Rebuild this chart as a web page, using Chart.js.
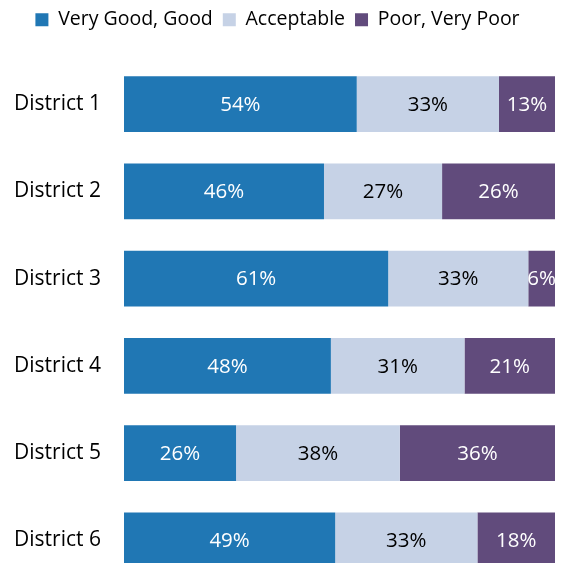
<!DOCTYPE html>
<html>
<head>
<meta charset="utf-8">
<script src="https://cdn.jsdelivr.net/npm/chart.js@4"></script>
<style>
  html, body { margin: 0; padding: 0; background: #fff; overflow: hidden; }
</style>
</head>
<body>
<canvas id="ratingChart" width="562" height="563"></canvas>
<script>
// District ratings, percent of respondents
const districts = ['District 1', 'District 2', 'District 3', 'District 4', 'District 5', 'District 6'];
const goodValues = [54, 46.4, 61.3, 48, 26, 49];
const acceptableValues = [33, 27.4, 32.5, 31, 38, 33];
const poorValues = [13, 26.2, 6.2, 21, 36, 18];
const seriesNames = ['Very Good, Good', 'Acceptable', 'Poor, Very Poor'];

const FONT = 'Open Sans';

// draws the % inside each segment
const segmentLabels = {
    id: 'segmentLabels',
    afterDatasetsDraw(chart) {
        const c = chart.ctx;
        c.save();
        c.font = '20.5px "' + FONT + '"';
        c.textAlign = 'center';
        c.textBaseline = 'middle';
        chart.data.datasets.forEach((ds, i) => {
            const meta = chart.getDatasetMeta(i);
            meta.data.forEach((bar, j) => {
                const v = ds.data[j];
                c.fillStyle = ds.labelColor;
                c.fillText(Math.round(v) + '%', (bar.base + bar.x) / 2, bar.y + 1);
            });
        });
        c.restore();
    }
};

// extra room under the legend, nudge it left, and let the last row run off the bottom
const layoutTweak = {
    id: 'layoutTweak',
    beforeInit(chart) {
        const fit = chart.legend.fit;
        chart.legend.fit = function() {
            fit.bind(chart.legend)();
            this.height += 21;
        };
    },
    afterLayout(chart) {
        chart.legend.left -= 7;
        chart.legend.right -= 7;
        const y = chart.scales.y;
        const bottom = chart.height + 21;
        y.bottom = bottom;
        y.height = bottom - y.top;
        y.configure();
        chart.chartArea.bottom = bottom;
        chart.chartArea.height = bottom - chart.chartArea.top;
    }
};

new Chart(document.getElementById('ratingChart'), {
    type: 'bar',
    data: {
        labels: districts,
        datasets: [
            { label: seriesNames[0], data: goodValues, backgroundColor: '#2077b4', labelColor: '#fff' },
            { label: seriesNames[1], data: acceptableValues, backgroundColor: '#c6d2e6', labelColor: '#000' },
            { label: seriesNames[2], data: poorValues, backgroundColor: '#614b7c', labelColor: '#fff' }
        ]
    },
    options: {
        indexAxis: 'y',
        responsive: false,
        animation: false,
        datasets: {
            bar: { barPercentage: 0.64, categoryPercentage: 1, borderWidth: 0 }
        },
        layout: { padding: { top: 0, right: 7, bottom: 0, left: 14 } },
        plugins: {
            tooltip: { enabled: false },
            legend: {
                display: true,
                position: 'top',
                labels: {
                    color: '#000',
                    font: { size: 19.5, family: FONT },
                    boxWidth: 13,
                    boxHeight: 13,
                    padding: 10
                }
            }
        },
        scales: {
            x: {
                stacked: true,
                min: 0,
                max: 100,
                display: false
            },
            y: {
                stacked: true,
                grid: { display: false, drawTicks: false },
                border: { display: false },
                afterFit(scale) { scale.width = 110; },
                ticks: {
                    color: '#000',
                    font: { size: 21, family: FONT },
                    padding: 23
                }
            }
        }
    },
    plugins: [segmentLabels, layoutTweak]
});
</script>
</body>
</html>
